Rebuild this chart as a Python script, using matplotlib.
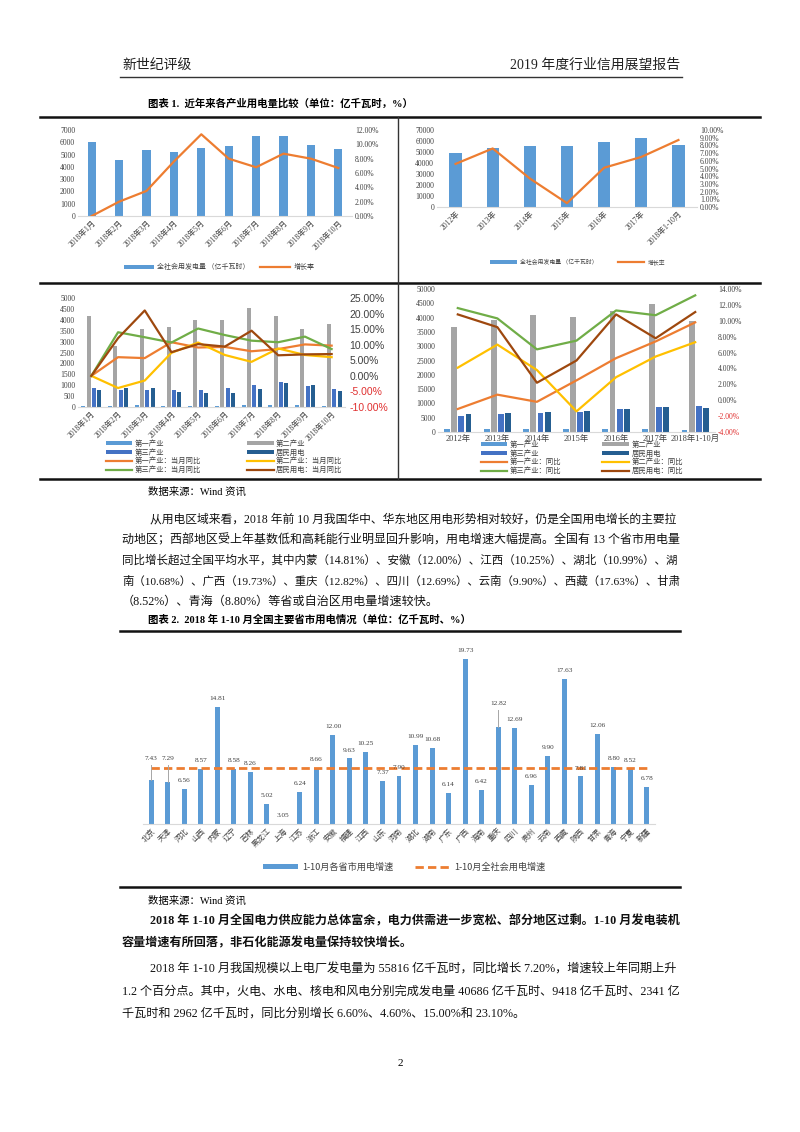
import matplotlib
matplotlib.use("Agg")
from matplotlib import pyplot as plt
from matplotlib.ticker import FuncFormatter, MultipleLocator
import numpy as np

plt.rcParams['font.family'] = ['Liberation Serif', 'Noto Sans CJK SC', 'DejaVu Sans']
plt.rcParams['axes.unicode_minus'] = False

W, H = 800, 1132

# ---- data ----
months = ["2018年1月", "2018年2月", "2018年3月", "2018年4月", "2018年5月",
          "2018年6月", "2018年7月", "2018年8月", "2018年9月", "2018年10月"]
month_use = [6000, 4590, 5350, 5220, 5540, 5680, 6490, 6510, 5760, 5490]
month_growth = [0.0, 2.0, 3.5, 7.6, 11.4, 8.0, 6.8, 8.7, 8.0, 6.7]

years = ["2012年", "2013年", "2014年", "2015年", "2016年", "2017年", "2018年1-10月"]
year_use = [49500, 53200, 55300, 55500, 59200, 63100, 56500]
year_growth = [5.6, 7.6, 3.7, 0.5, 5.1, 6.5, 8.7]

sector_names = ["第一产业", "第二产业", "第三产业", "居民用电"]
m_primary = [60, 60, 80, 50, 55, 60, 75, 85, 70, 50]
m_secondary = [4185, 2800, 3570, 3680, 4000, 4000, 4540, 4170, 3600, 3830]
m_tertiary = [890, 800, 770, 770, 800, 877, 1015, 1140, 985, 815]
m_resident = [800, 860, 877, 680, 630, 660, 815, 1090, 1030, 725]
m_primary_yoy = [0.0, 6.0, 5.7, 10.8, 9.1, 9.3, 7.9, 8.6, 10.1, 9.7]
m_secondary_yoy = [0.0, -3.9, -1.5, 7.4, 10.7, 6.7, 4.5, 8.8, 6.7, 6.0]
m_tertiary_yoy = [0.0, 14.0, 12.4, 10.7, 15.2, 13.1, 11.3, 10.8, 12.6, 8.6]
m_resident_yoy = [0.0, 12.1, 21.0, 7.6, 10.2, 9.4, 14.5, 6.6, 6.9, 7.0]

y_primary = [1010, 1015, 1000, 1020, 1075, 1155, 600]
y_secondary = [36770, 39230, 40750, 40170, 42150, 44600, 38640]
y_tertiary = [5740, 6200, 6670, 7140, 7960, 8780, 9020]
y_resident = [6200, 6790, 6900, 7260, 8200, 8690, 8310]
y_primary_yoy = [-1.1, 0.7, -0.2, 2.5, 5.3, 7.4, 9.8]
y_secondary_yoy = [4.1, 7.0, 3.8, -1.4, 2.9, 5.5, 7.3]
y_tertiary_yoy = [11.6, 10.3, 6.4, 7.5, 11.3, 10.7, 13.2]
y_resident_yoy = [10.8, 9.2, 2.2, 5.0, 10.8, 7.8, 11.1]

provinces = ["北京", "天津", "河北", "山西", "内蒙", "辽宁", "吉林", "黑龙江", "上海", "江苏",
             "浙江", "安徽", "福建", "江西", "山东", "河南", "湖北", "湖南", "广东", "广西",
             "海南", "重庆", "四川", "贵州", "云南", "西藏", "陕西", "甘肃", "青海", "宁夏", "新疆"]
prov_growth = [7.43, 7.29, 6.56, 8.57, 14.81, 8.58, 8.26, 5.02, 3.05, 6.24,
               8.66, 12.00, 9.63, 10.25, 7.37, 7.90, 10.99, 10.68, 6.14, 19.73,
               6.42, 12.82, 12.69, 6.96, 9.90, 17.63, 7.81, 12.06, 8.80, 8.52, 6.78]
national_growth = 8.7

BLUE = "#5B9BD5"
ORANGE = "#ED7D31"
GRAY = "#A5A5A5"
MBLUE = "#4472C4"
DBLUE = "#255E91"
YELLOW = "#FFC000"
GREEN = "#70AD47"
BROWN = "#9E480E"
TXT = "#404040"
CJK = ['Noto Sans CJK SC', 'DejaVu Sans']


def box(x0, y0, x1, y1):
    return [x0 / W, 1 - y1 / H, (x1 - x0) / W, (y1 - y0) / H]


def fx(x):
    return x / W


def fy(y):
    return 1 - y / H


def clean(ax):
    for s in ["top", "right", "left"]:
        ax.spines[s].set_visible(False)
    ax.spines["bottom"].set_color("#D9D9D9")
    ax.tick_params(length=0, labelsize=5.5, colors=TXT, pad=2)
    ax.patch.set_alpha(0)


def pct(dec):
    return FuncFormatter(lambda v, p: ("%." + str(dec) + "f%%") % v)


fig = plt.figure(figsize=(W / 100, H / 100), dpi=100)
renderer = fig.canvas.get_renderer()


def body_line(x0, x1, y, s, size=8.7, fit=True, **kw):
    # body lines are justified in the report: nudge the size so the line fills x0..x1
    t = fig.text(fx(x0), fy(y), s, fontsize=size, va="center", color="#111111", **kw)
    if fit:
        w = t.get_window_extent(renderer).width
        t.set_fontsize(min(max(size * (x1 - x0) / w, size * 0.92), size * 1.08))
    return t


# ---- page text ----
fig.text(fx(122), fy(65), "新世纪评级", fontsize=10, va="center", family=CJK, color="#222222")
fig.text(fx(680), fy(65), "2019 年度行业信用展望报告", fontsize=10, va="center", ha="right", color="#222222")
fig.add_artist(plt.Line2D([fx(120), fx(682)], [fy(77), fy(77)], color="#333333", lw=1))

fig.text(fx(148), fy(103), "图表 1.  近年来各产业用电量比较（单位：亿千瓦时，%）", fontsize=7.5,
         va="center", weight="bold")

# frame of figure 1
for yy in [117, 283, 479]:
    fig.add_artist(plt.Line2D([fx(40), fx(760)], [fy(yy), fy(yy)], color="#111111", lw=1.8))
fig.add_artist(plt.Line2D([fx(398), fx(398)], [fy(117), fy(479)], color="#333333", lw=1))

# ---- chart 1a: monthly total ----
ax1 = fig.add_axes(box(78, 130, 352, 216))
x = np.arange(len(months))
b1 = ax1.bar(x, month_use, width=0.3, color=BLUE)
ax1.set_xlim(-0.5, len(months) - 0.5)
ax1.set_ylim(0, 7000)
ax1.yaxis.set_major_locator(MultipleLocator(1000))
ax1.set_xticks(x)
ax1.set_xticklabels(months, rotation=45, ha="right", rotation_mode="anchor")
clean(ax1)
ax1b = ax1.twinx()
l1, = ax1b.plot(x, month_growth, color=ORANGE, lw=1.6)
ax1b.set_ylim(0, 12)
ax1b.yaxis.set_major_locator(MultipleLocator(2))
ax1b.yaxis.set_major_formatter(pct(2))
clean(ax1b)
ax1b.spines["bottom"].set_visible(False)
fig.legend([b1, l1], ["全社会用发电量 （亿千瓦时）", "增长率"], loc="center",
           bbox_to_anchor=(fx(219), fy(267)), ncol=2, frameon=False, prop={"family": CJK, "size": 5},
           handlelength=4.3, handleheight=0.5, handletextpad=0.5, columnspacing=1.5, labelcolor=TXT)

# ---- chart 1b: yearly total ----
ax2 = fig.add_axes(box(437, 130, 697, 207))
x = np.arange(len(years))
b2 = ax2.bar(x, year_use, width=0.33, color=BLUE)
ax2.set_xlim(-0.5, len(years) - 0.5)
ax2.set_ylim(0, 70000)
ax2.yaxis.set_major_locator(MultipleLocator(10000))
ax2.set_xticks(x)
ax2.set_xticklabels(years, rotation=45, ha="right", rotation_mode="anchor")
clean(ax2)
ax2b = ax2.twinx()
l2, = ax2b.plot(x, year_growth, color=ORANGE, lw=1.6)
ax2b.set_ylim(0, 10)
ax2b.yaxis.set_major_locator(MultipleLocator(1))
ax2b.yaxis.set_major_formatter(pct(2))
clean(ax2b)
ax2b.spines["bottom"].set_visible(False)
fig.legend([b2, l2], ["全社会用发电量 （亿千瓦时）", "增长率"], loc="center",
           bbox_to_anchor=(fx(578), fy(262)), ncol=2, frameon=False, prop={"family": CJK, "size": 4.2},
           handlelength=4.5, handleheight=0.5, handletextpad=0.6, columnspacing=3.5, labelcolor=TXT)


def sector_chart(rect, cats, bars, lines, width, offs, ylim, ylim2, step, step2, right_sans):
    ax = fig.add_axes(box(*rect))
    x = np.arange(len(cats))
    colors = [BLUE, GRAY, MBLUE, DBLUE]
    hb = []
    for vals, c, o in zip(bars, colors, offs):
        hb.append(ax.bar(x + o, vals, width=width, color=c))
    ax.set_xlim(-0.5, len(cats) - 0.5)
    ax.set_ylim(*ylim)
    ax.yaxis.set_major_locator(MultipleLocator(step))
    ax.set_xticks(x)
    clean(ax)
    axb = ax.twinx()
    hl = []
    for vals, c in zip(lines, [ORANGE, YELLOW, GREEN, BROWN]):
        ln, = axb.plot(x, vals, color=c, lw=1.6)
        hl.append(ln)
    axb.set_ylim(*ylim2)
    axb.yaxis.set_major_locator(MultipleLocator(step2))
    axb.yaxis.set_major_formatter(pct(2))
    clean(axb)
    axb.spines["bottom"].set_visible(False)
    if right_sans:
        axb.tick_params(labelsize=7.5, labelfontfamily="Liberation Sans", pad=3)
    fig.canvas.draw()
    for t in axb.get_yticklabels():
        if t.get_text().startswith("-"):
            t.set_color("#E03030")
    return ax, hb, hl


# ---- chart 1c: monthly by sector ----
ax3, hb3, hl3 = sector_chart((78, 298, 345, 407), months,
                             [m_primary, m_secondary, m_tertiary, m_resident],
                             [m_primary_yoy, m_secondary_yoy, m_tertiary_yoy, m_resident_yoy],
                             0.15, [-0.3, -0.1, 0.1, 0.3], (0, 5000), (-10, 25), 500, 5, True)
ax3.set_xticklabels(months, rotation=45, ha="right", rotation_mode="anchor")
lab3 = sector_names + [n + "：当月同比" for n in sector_names]
h3 = hb3 + hl3
order = [0, 2, 4, 6, 1, 3, 5, 7]
fig.legend([h3[i] for i in order], [lab3[i] for i in order], loc="center",
           bbox_to_anchor=(fx(224), fy(457)), ncol=2, frameon=False, prop={"family": CJK, "size": 5.3},
           handlelength=3.6, handleheight=0.5, handletextpad=0.3, columnspacing=6.3,
           labelspacing=0.12, borderpad=0, labelcolor=TXT)

# ---- chart 1d: yearly by sector ----
ax4, hb4, hl4 = sector_chart((438, 289, 715, 432), years,
                             [y_primary, y_secondary, y_tertiary, y_resident],
                             [y_primary_yoy, y_secondary_yoy, y_tertiary_yoy, y_resident_yoy],
                             0.15, [-0.27, -0.09, 0.09, 0.27], (0, 50000), (-4, 14), 5000, 2, False)
ax4.set_xticklabels(years, fontsize=6)
lab4 = sector_names + [n + "：同比" for n in sector_names]
h4 = hb4 + hl4
fig.legend([h4[i] for i in order], [lab4[i] for i in order], loc="center",
           bbox_to_anchor=(fx(582), fy(458)), ncol=2, frameon=False, prop={"family": CJK, "size": 5.3},
           handlelength=3.6, handleheight=0.5, handletextpad=0.4, columnspacing=5.5,
           labelspacing=0.12, borderpad=0, labelcolor=TXT)

fig.text(fx(148), fy(492), "数据来源：Wind 资讯", fontsize=7.5, va="center")

# ---- body paragraph ----
para1 = ["从用电区域来看，2018 年前 10 月我国华中、华东地区用电形势相对较好，仍是全国用电增长的主要拉",
         "动地区；西部地区受上年基数低和高耗能行业明显回升影响，用电增速大幅提高。全国有 13 个省市用电量",
         "同比增长超过全国平均水平，其中内蒙（14.81%）、安徽（12.00%）、江西（10.25%）、湖北（10.99%）、湖",
         "南（10.68%）、广西（19.73%）、重庆（12.82%）、四川（12.69%）、云南（9.90%）、西藏（17.63%）、甘肃",
         "（8.52%）、青海（8.80%）等省或自治区用电量增速较快。"]
for i, line in enumerate(para1):
    body_line(150 if i == 0 else 122, 680, 519 + i * 20.8, line, fit=i < len(para1) - 1)

fig.text(fx(148), fy(620), "图表 2.  2018 年 1-10 月全国主要省市用电情况（单位：亿千瓦时、%）", fontsize=7.5,
         va="center", weight="bold")
fig.add_artist(plt.Line2D([fx(120), fx(680)], [fy(631), fy(631)], color="#111111", lw=1.8))
fig.add_artist(plt.Line2D([fx(120), fx(680)], [fy(887), fy(887)], color="#111111", lw=1.8))

# ---- chart 2: provinces ----
ax5 = fig.add_axes(box(143, 646, 655, 824))
x = np.arange(len(provinces))
b5 = ax5.bar(x, prov_growth, width=0.3, color=BLUE)
l5, = ax5.plot(x, [national_growth] * len(provinces), color=ORANGE, lw=2, ls=(0, (3, 1.5)))
ax5.set_xlim(-0.5, len(provinces) - 0.5)
ax5.set_ylim(3, 21)
ax5.set_yticks([])
ax5.set_xticks(x)
ax5.set_xticklabels(provinces, rotation=45, ha="right", rotation_mode="anchor", family=CJK, fontsize=5.5)
clean(ax5)
lift = {0: 1.9, 1: 2.05, 21: 2.1}
for i, v in enumerate(prov_growth):
    up = lift.get(i, 0.6)
    if i in lift:
        ax5.plot([i, i], [v, v + up - 0.4], color="#A6A6A6", lw=0.7)
    ax5.text(i, v + up, "%.2f" % v, ha="center", va="bottom", fontsize=5.2, color=TXT)
fig.legend([b5, l5], ["1-10月各省市用电增速", "1-10月全社会用电增速"], loc="center",
           bbox_to_anchor=(fx(404), fy(867)), ncol=2, frameon=False, prop={"family": CJK, "size": 6.6},
           handlelength=3.8, handleheight=0.5, handletextpad=0.5, columnspacing=2.3, labelcolor=TXT)

fig.text(fx(148), fy(901), "数据来源：Wind 资讯", fontsize=7.5, va="center")

para2 = ["2018 年 1-10 月全国电力供应能力总体富余，电力供需进一步宽松、部分地区过剩。1-10 月发电装机",
         "容量增速有所回落，非石化能源发电量保持较快增长。"]
for i, line in enumerate(para2):
    body_line(150 if i == 0 else 122, 680, 921 + i * 22, line, fit=i == 0, weight="bold")

para3 = ["2018 年 1-10 月我国规模以上电厂发电量为 55816 亿千瓦时，同比增长 7.20%，增速较上年同期上升",
         "1.2 个百分点。其中，火电、水电、核电和风电分别完成发电量 40686 亿千瓦时、9418 亿千瓦时、2341 亿",
         "千瓦时和 2962 亿千瓦时，同比分别增长 6.60%、4.60%、15.00%和 23.10%。"]
for i, line in enumerate(para3):
    body_line(150 if i == 0 else 122, 680, 970 + i * 22, line, fit=i < len(para3) - 1)

fig.text(fx(400), fy(1063), "2", fontsize=8, ha="center", va="center")

fig.savefig("out.png", dpi=100)
